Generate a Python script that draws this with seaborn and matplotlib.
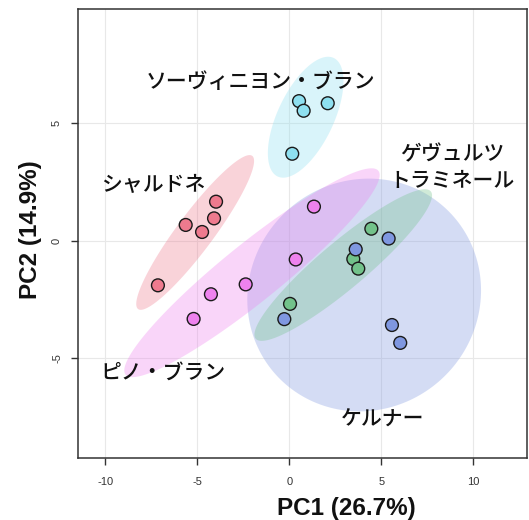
import numpy as np
import pandas as pd
import matplotlib
matplotlib.use("Agg")
import matplotlib.pyplot as plt
import seaborn as sns

# PCA scores per grape variety
sauvignon_pc1 = [0.53, 0.78, 2.09, 0.16]
sauvignon_pc2 = [5.94, 5.53, 5.85, 3.70]
chardonnay_pc1 = [-3.98, -4.09, -5.63, -4.74, -7.14]
chardonnay_pc2 = [1.66, 0.95, 0.67, 0.37, -1.90]
pinot_pc1 = [1.34, 0.35, -2.37, -4.26, -5.20]
pinot_pc2 = [1.45, -0.80, -1.86, -2.28, -3.33]
gewurz_pc1 = [4.46, 3.48, 3.75, 0.04]
gewurz_pc2 = [0.51, -0.78, -1.19, -2.69]
kerner_pc1 = [5.40, 3.61, -0.27, 5.58, 6.03]
kerner_pc2 = [0.09, -0.37, -3.34, -3.59, -4.35]

varieties = ["ソーヴィニヨン・ブラン", "シャルドネ", "ピノ・ブラン",
             "ゲヴュルツ\nトラミネール", "ケルナー"]
colors = ["#8EE0F0", "#EE7A8E", "#EE82EE", "#72C28A", "#7F97E0"]
label_pos = [(-1.59, 6.75), (-7.38, 2.37), (-6.86, -5.63), (8.84, 3.11), (5.09, -7.63)]

xticks = [-10, -5, 0, 5, 10]
yticks = [-5, 0, 5]
xlabel = "PC1 (26.7%)"
ylabel = "PC2 (14.9%)"

groups = [(sauvignon_pc1, sauvignon_pc2), (chardonnay_pc1, chardonnay_pc2),
          (pinot_pc1, pinot_pc2), (gewurz_pc1, gewurz_pc2), (kerner_pc1, kerner_pc2)]
rows = []
for name, (xs, ys) in zip(varieties, groups):
    for x, y in zip(xs, ys):
        rows.append({"PC1": x, "PC2": y, "variety": name})
df = pd.DataFrame(rows)

sns.set_style("white")
plt.rcParams["font.family"] = ["Liberation Sans", "DejaVu Sans"]
plt.rcParams["axes.unicode_minus"] = False

fig = plt.figure(figsize=(5.29, 5.20), dpi=100)
ax = fig.add_axes([77.7 / 529, 1 - 458 / 520, (527 - 77.7) / 529, (458 - 9.5) / 520])

ax.set_xlim(-11.5, 12.92)
ax.set_ylim(-9.25, 9.84)
ax.set_xticks(xticks)
ax.set_yticks(yticks)
ax.grid(True, color="#e8e8e8", linewidth=0.8, zorder=0)
ax.set_axisbelow(True)

# 95% normal-theory confidence ellipse for each variety
r = np.sqrt(-2 * np.log(0.05))
t = np.linspace(0, 2 * np.pi, 200)
circle = np.vstack([np.cos(t), np.sin(t)])
order = [4, 2, 3, 1, 0]
for i in order:
    xs, ys = groups[i]
    pts = np.vstack([xs, ys])
    mu = pts.mean(axis=1, keepdims=True)
    cov = np.cov(pts)
    L = np.linalg.cholesky(cov)
    ell = mu + r * L @ circle
    ax.fill(ell[0], ell[1], color=colors[i], alpha=0.33, lw=0, zorder=1)

sns.scatterplot(data=df, x="PC1", y="PC2", hue="variety", hue_order=varieties,
                palette=colors, s=85, edgecolor="#1a1a1a", linewidth=1.0,
                legend=False, ax=ax, zorder=3)

for name, (lx, ly) in zip(varieties, label_pos):
    ax.text(lx, ly, name, ha="center", va="center", fontsize=15,
            family=["Noto Sans CJK JP", "DejaVu Sans"], weight="medium",
            color="#111111", linespacing=1.25, zorder=4)

for s in ax.spines.values():
    s.set_visible(True)
    s.set_color("#333333")
    s.set_linewidth(1.1)

ax.tick_params(axis="both", direction="out", length=5, width=1, color="#333333",
               labelsize=8, labelcolor="#333333")
ax.tick_params(axis="x", bottom=True, pad=8.5)
ax.tick_params(axis="y", left=True, pad=6.3)
for lab in ax.get_yticklabels():
    lab.set_rotation(90)
    lab.set_va("center")

ax.set_xlabel("")
ax.set_ylabel("")
fig.text(346 / 529, 1 - 508 / 520, xlabel, ha="center", va="center",
         fontsize=17.5, weight="bold", color="#111111")
fig.text(30 / 529, 1 - 230 / 520, ylabel, ha="center", va="center",
         fontsize=17.5, weight="bold", rotation=90, color="#111111")

fig.savefig("out.png", dpi=100)
